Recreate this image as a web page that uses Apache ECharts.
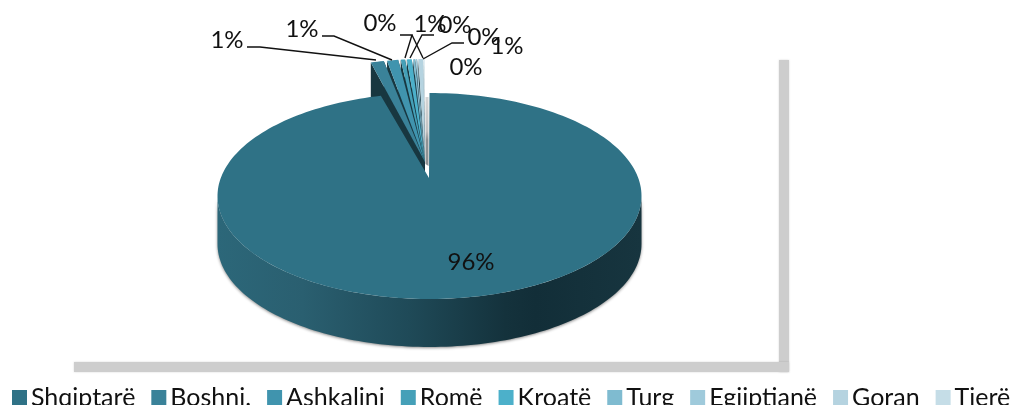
<!DOCTYPE html>
<html>
<head>
<meta charset="utf-8">
<style>html,body{margin:0;padding:0;background:#fff;overflow:hidden}#c{width:1012px;height:405px}</style>
<script src="https://cdn.jsdelivr.net/npm/echarts@6/dist/echarts.min.js"></script>
</head>
<body>
<div id="c"></div>
<script>
// data
const categories = ['Shqiptarë','Boshnj.','Ashkalinj','Romë','Kroatë','Turg','Egjiptianë','Goran','Tjerë'];
const shares = [95.76, 1.25, 1.1, 0.45, 0.52, 0.2, 0.15, 0.52, 0.05];
const colors = ['#2f7286','#3a8299','#4094ae','#45a0b8','#4cb0ca','#7fbbd0','#9fcadb','#b5d3e0','#c5dde7'];
// layout
const RX = 212, RY = 103, DEPTH = 48;
const MAIN = {cx: 429.5, cy: 196, ax: 429, ay: 178};
const SMALL = {cx: 425, cy: 162};
const labelPos = [[471,262],[227,40],[302,29],[380,23],[430,24],[455,25],[484,37],[507,46],[466,67]];
const leaders = [null,
  [[247,47],[260,47],[376,60]],
  [[322,36],[334,36],[392,60]],
  [[400,35],[412,35],[405,58]],
  [[434,35],[422,35],[410,58]],
  [[412,35],[423,58]],
  [[464,43],[452,43],[423,59]],
  null, null];
const total = shares.reduce((a,b)=>a+b,0);
function rim(c, deg){const t=deg*Math.PI/180;return [c.cx+RX*Math.sin(t), c.cy-RY*Math.cos(t)];}
function arc(c, a0, a1){const n=Math.max(4,Math.ceil(Math.abs(a1-a0)/1.5)),p=[];for(let i=0;i<=n;i++)p.push(rim(c,a0+(a1-a0)*i/n));return p;}
function down(p){return p.map(q=>[q[0],q[1]+DEPTH]);}
function label(i){return {type:'text',z2:50,silent:true,style:{text:Math.round(shares[i]/total*100)+'%',x:labelPos[i][0],y:labelPos[i][1],align:'center',verticalAlign:'middle',fill:'#111',font:'24px Lato'}};}
function leader(i){return leaders[i]?{type:'polyline',z2:49,silent:true,shape:{points:leaders[i]},style:{stroke:'#111',lineWidth:1.4,fill:null}}:null;}
function darken(hex,f){const n=parseInt(hex.slice(1),16);return 'rgb('+[n>>16,(n>>8)&255,n&255].map(v=>Math.round(v*f)).join(',')+')';}
function renderSlice(params, api){
  const i = params.seriesIndex, kids=[];
  if(i===0){
    const end = api.value(0)/total*360 + 2;
    const wall = arc(MAIN,90,270);
    kids.push({type:'polygon',shape:{points:wall.concat(down(wall).reverse())},style:{
      fill:new echarts.graphic.LinearGradient(218,0,641,0,[
        {offset:0,color:'#2c6779'},{offset:.2,color:'#2a5f70'},{offset:.45,color:'#1f4a58'},
        {offset:.68,color:'#14323c'},{offset:.75,color:'#122e38'},{offset:1,color:'#17353f'}],true),
      shadowColor:'rgba(0,0,0,.45)',shadowBlur:3,shadowOffsetY:1}});
    const top=rim(MAIN,0);
    kids.push({type:'polygon',shape:{points:[[top[0]-4,top[1]+4],[top[0]-1,top[1]+4],[top[0]-1,MAIN.ay-12],[top[0]-4,MAIN.ay-14]]},style:{
      fill:new echarts.graphic.LinearGradient(0,top[1],0,MAIN.ay,[
        {offset:0,color:'#d8d8d8'},{offset:.45,color:'#c2c2c2'},{offset:.55,color:'#8f9294'},{offset:.9,color:'#8f9294'},{offset:1,color:'#cfcfcf'}],true)}});
    kids.push({type:'polygon',shape:{points:[[MAIN.ax,MAIN.ay]].concat(arc(MAIN,0,end))},style:{fill:colors[0]}});
  } else {
    let start = 0; for(let k=0;k<i;k++) start+=shares[k];
    const a0=start/total*360, a1=(start+api.value(0))/total*360;
    const pad=Math.min(.45,(a1-a0)*.14);
    const rimPts=arc(SMALL,a0+pad,a1-pad), apex=[SMALL.cx,SMALL.cy];
    const top=[apex].concat(rimPts);
    const dark=darken(colors[1],.42);
    [rimPts[0],rimPts[rimPts.length-1]].forEach(r=>{
      kids.push({type:'polygon',z2:1,shape:{points:[apex,r,[r[0],r[1]+DEPTH],[apex[0],apex[1]+DEPTH]]},style:{fill:dark}});
    });
    kids.push({type:'polygon',z2:2,shape:{points:top},style:{fill:colors[i]}});
  }
  kids.push(label(i));
  const l=leader(i); if(l) kids.push(l);
  return {type:'group',children:kids};
}
const series = categories.map((name,i)=>({
  type:'custom',name,coordinateSystem:'none',z:i===0?5:3,silent:true,
  itemStyle:{color:colors[i]},renderItem:renderSlice,data:[{value:[shares[i]],name}],animation:false
}));
const chart = echarts.init(document.getElementById('c'),null,{renderer:'canvas'});
chart.setOption({
  animation:false,backgroundColor:'#fff',
  graphic:[
    {type:'rect',silent:true,shape:{x:779,y:60,width:10,height:312},style:{fill:'#cdcdcd',shadowColor:'rgba(0,0,0,.15)',shadowBlur:2}},
    {type:'rect',silent:true,shape:{x:74,y:362,width:715,height:10},style:{fill:'#cdcdcd',shadowColor:'rgba(0,0,0,.15)',shadowBlur:2}}
  ],
  legend:{left:7,top:380,width:1100,itemWidth:15,itemHeight:15,itemGap:16,icon:'rect',selectedMode:false,
    data:categories,textStyle:{fontFamily:'Lato',fontSize:25,color:'#111',padding:[0,0,0,-1]}},
  series
});
</script>
</body>
</html>
